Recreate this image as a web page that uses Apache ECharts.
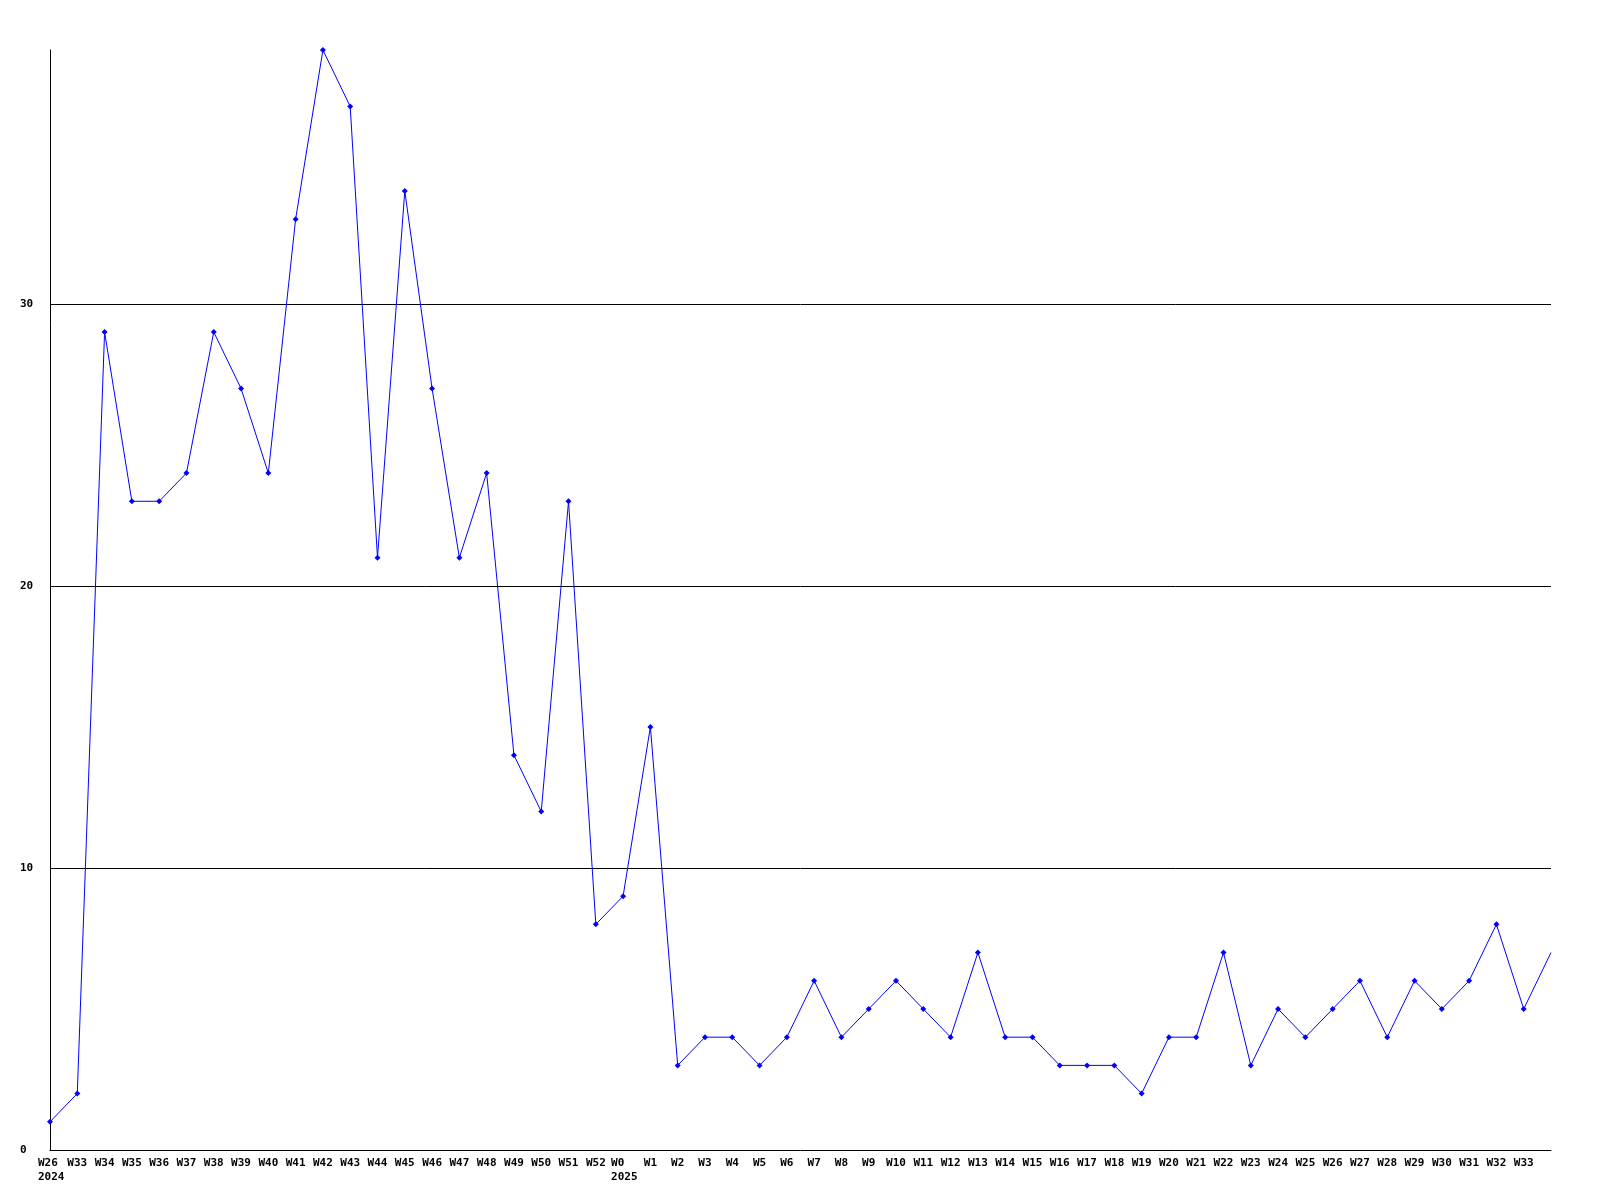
<!DOCTYPE html>
<html>
<head>
<meta charset="utf-8">
<script src="https://cdn.jsdelivr.net/npm/echarts@6/dist/echarts.min.js"></script>
<style>
html,body{margin:0;padding:0;background:#fff;}
#chart{width:1600px;height:1200px;}
</style>
</head>
<body>
<div id="chart"></div>
<script>
const weeks = ["W26\n2024","W33","W34","W35","W36","W37","W38","W39","W40","W41","W42","W43","W44","W45","W46","W47","W48","W49","W50","W51","W52",
  "W0\n2025","W1","W2","W3","W4","W5","W6","W7","W8","W9","W10","W11","W12","W13","W14","W15","W16","W17","W18","W19","W20","W21","W22","W23","W24","W25","W26","W27","W28","W29","W30","W31","W32","W33","W34"];
const counts = [1,2,29,23,23,24,29,27,24,33,39,37,21,34,27,21,24,14,12,23,8,
  9,15,3,4,4,3,4,6,4,5,6,5,4,7,4,4,3,3,3,2,4,4,7,3,5,4,5,6,4,6,5,6,8,5,7];
const yTicks = [0,10,20,30];

const font = {fontFamily:'DejaVu Sans Mono', fontWeight:'bold', fontSize:11, color:'#000'};
const chart = echarts.init(document.getElementById('chart'));
chart.setOption({
  animation:false,
  backgroundColor:'#fff',
  grid:{left:50, right:49, top:50, bottom:50, containLabel:false},
  xAxis:{
    type:'category', data:weeks, boundaryGap:false,
    axisLine:{show:true, lineStyle:{color:'#000', width:1}},
    axisTick:{show:false},
    splitLine:{show:false},
    axisLabel:Object.assign({interval:0, margin:6, lineHeight:14, verticalAlign:'top',
      formatter:(v, i) => {
        if (i === weeks.length - 1) return '';
        if (v.indexOf('\n') >= 0) {
          const p = v.split('\n');
          return '{b|' + p[0] + '}\n{b|' + p[1] + '}';
        }
        return v;
      },
      rich:{b:Object.assign({width:24, align:'left', lineHeight:14}, font)}
    }, font)
  },
  yAxis:{
    type:'value', min:0, max:39, interval:10,
    axisLine:{show:true, lineStyle:{color:'#000', width:1}},
    axisTick:{show:false},
    splitLine:{show:true, showMinLine:false, showMaxLine:false, lineStyle:{color:'#000', width:1}},
    axisLabel:Object.assign({align:'left', margin:30, showMaxLabel:false,
      formatter:v => yTicks.includes(v) ? String(v) : ''}, font)
  },
  series:[{
    type:'line',
    data:counts.map((v,i)=> i===counts.length-1 ? {value:v, symbol:'none'} : v),
    symbol:'diamond', symbolSize:6,
    lineStyle:{color:'#0000ff', width:1},
    itemStyle:{color:'#0000ff'},
    clip:true
  }]
});
</script>
</body>
</html>
